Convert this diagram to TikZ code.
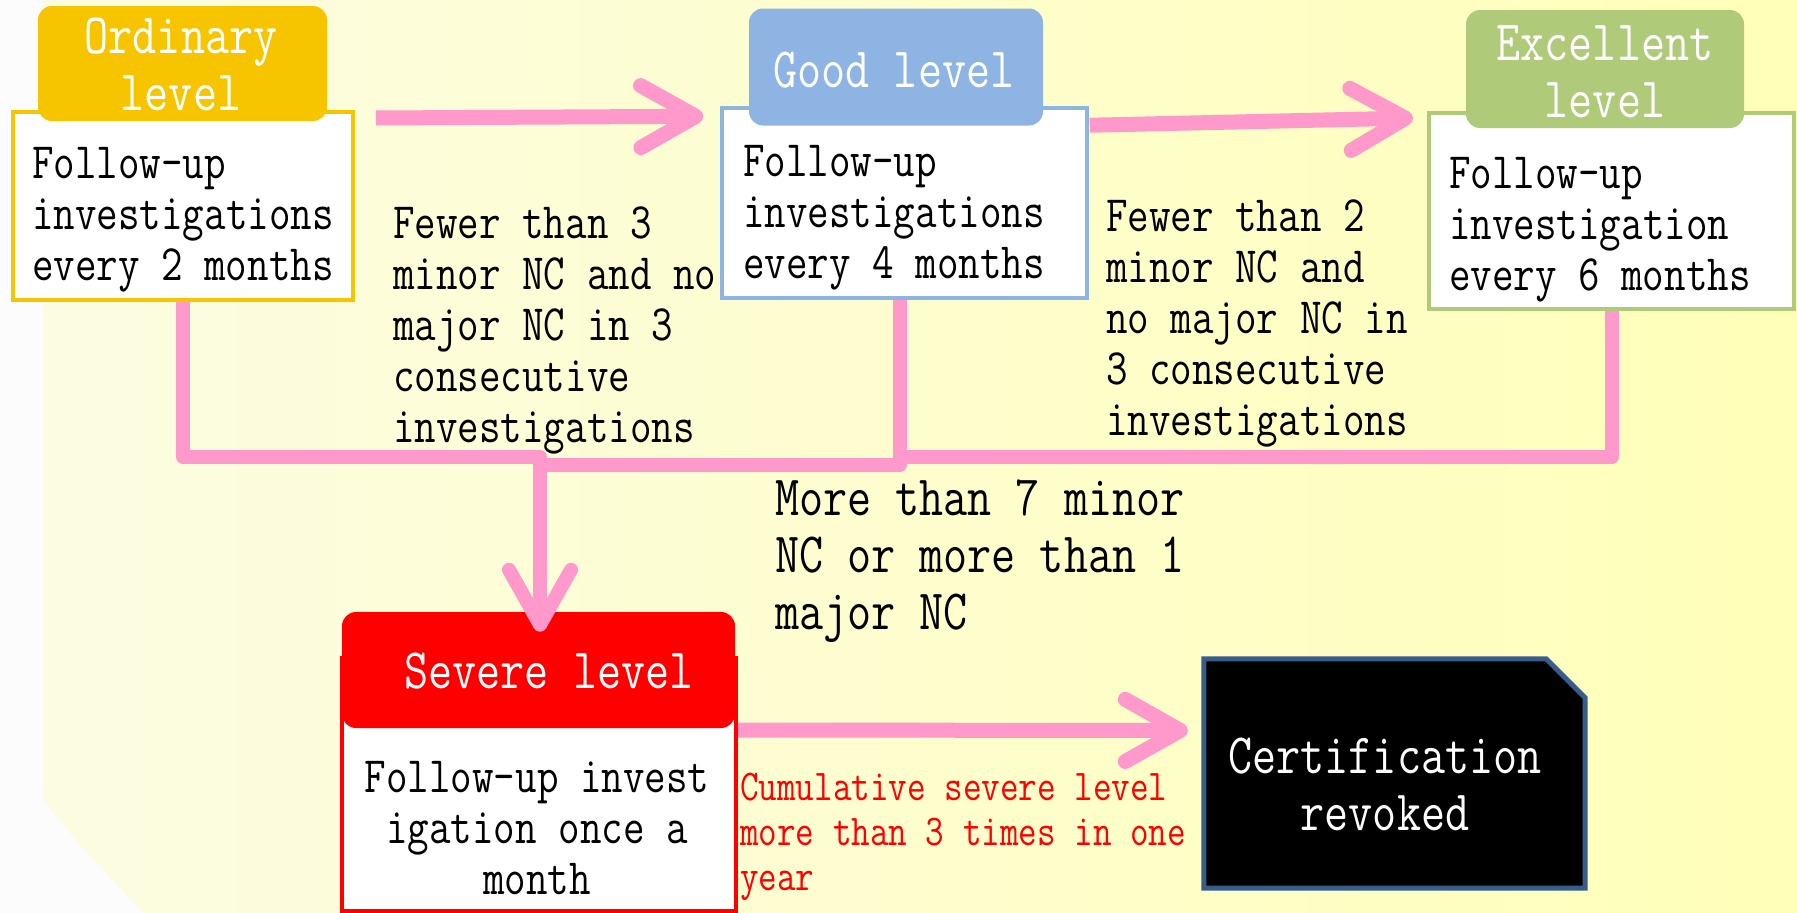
\documentclass[tikz,border=0pt]{standalone}
\usepackage{fontspec}
\usetikzlibrary{arrows.meta,calc}
\newfontfamily\mono[FakeStretch=0.82]{Latin Modern Mono}
\definecolor{bgL}{HTML}{FCFCE2}
\definecolor{bgR}{HTML}{FFFFB9}
\definecolor{strip}{HTML}{FCFCFC}
\definecolor{og}{HTML}{F6C500}
\definecolor{gb}{HTML}{8DB4E2}
\definecolor{eg}{HTML}{AFCB7A}
\definecolor{pk}{HTML}{FF99CC}
\definecolor{certb}{HTML}{385D8A}
\newcommand\txtL[1]{\begin{tabular}[t]{@{}l@{}}#1\end{tabular}}
\newcommand\txtC[1]{\begin{tabular}[t]{@{}c@{}}#1\end{tabular}}
\begin{document}
\begin{tikzpicture}[x=1pt,y=-1pt,
  box/.style={rectangle, draw, fill=white, inner sep=0pt, line width=4pt},
  head/.style={rectangle, rounded corners=14pt, inner sep=0pt},
  body/.style={font=\mono\fontsize{51}{51}\selectfont, inner sep=0pt, anchor=base west},
  bodyc/.style={font=\mono\fontsize{51}{51}\selectfont, inner sep=0pt, anchor=base},
  big/.style={font=\mono\fontsize{57}{57}\selectfont, inner sep=0pt, anchor=base},
  bigl/.style={font=\mono\fontsize{57}{57}\selectfont, inner sep=0pt, anchor=base west},
  redtxt/.style={font=\mono\fontsize{44}{45}\selectfont, text=red, inner sep=0pt, anchor=base west},
  pinkline/.style={draw=pk, line width=14pt, line join=round},
  barb/.style={-{Straight Barb[length=55pt,width=62pt,round]}}]
\useasboundingbox (0,0) rectangle (1797,913);
% background
\fill[strip] (0,0) rectangle (1797,913);
\shade[left color=bgL, right color=bgR] (43,0) -- (1797,0) -- (1797,913) -- (143,913)
  .. controls (100,867) and (55,820) .. (43,797) -- cycle;

% boxes
\node[box, draw=og, minimum width=340pt, minimum height=188pt] (obox) at (183,206) {};
\node[head, fill=og, minimum width=289pt, minimum height=115pt] (ohead) at (182.5,63.5) {};
\node[box, draw=gb, line width=3.5pt, minimum width=365pt, minimum height=190pt] (gbox) at (904.5,203) {};
\node[head, fill=gb, minimum width=294pt, minimum height=117pt] (ghead) at (896,67) {};
\node[box, draw=eg, minimum width=365pt, minimum height=196pt] (ebox) at (1611.5,211) {};
\node[head, fill=eg, minimum width=278pt, minimum height=118pt] (ehead) at (1605,69) {};
\node[box, draw=red, minimum width=394pt, minimum height=253pt] (sbox) at (539,784.5) {};
\node[head, fill=red, minimum width=393pt, minimum height=116pt] (shead) at (538.5,670) {};

% certification box
\node[minimum width=381pt, minimum height=229pt, inner sep=0pt] (cert) at (1394.5,773.5) {};
\filldraw[fill=black, draw=certb, line width=5pt, line join=miter]
  (cert.south west) -- (cert.north west) -- ([shift={(-39,0)}]cert.north east)
  -- ([shift={(0,39)}]cert.north east) -- (cert.south east) -- cycle;

% header texts
\node[big, text=white] (ohtxt) at (181,53) {\txtC{Ordinary\\level}};
\node[big, text=white] (ghtxt) at (894,87) {Good level};
\node[big, text=white] (ehtxt) at (1605,60) {\txtC{Excellent\\level}};
\node[big, text=white] (shtxt) at (549,688) {Severe level};
\node[big, text=white] (ctxt) at (1385,773) {\txtC{Certification\\revoked}};

% body texts
\node[body] (otxt) at (32,178) {\txtL{Follow-up\\investigations\\every 2 months}};
\node[body] (gtxt) at (743,176) {\txtL{Follow-up\\investigations\\every 4 months}};
\node[body] (etxt) at (1449,188) {\txtL{Follow-up\\investigation\\every 6 months}};
\node[bodyc] (stxt) at (537,792) {\txtC{Follow-up invest\\igation once a\\month}};

% condition labels
\node[body] (c1) at (393,238) {\txtL{Fewer than 3\\minor NC and no\\major NC in 3\\consecutive\\investigations}};
\node[body] (c2) at (1106,231) {\txtL{Fewer than 2\\minor NC and\\no major NC in\\3 consecutive\\investigations}};
\node[bigl] (c3) at (775,515) {\txtL{More than 7 minor\\NC or more than 1\\major NC}};
\node[redtxt] (c4) at (740,800) {\txtL{Cumulative severe level\\more than 3 times in one\\year}};

% connectors
\coordinate (j1) at (540,457);
\coordinate (j2) at (540,465);
\coordinate (j3) at (899,457);
\draw[pinkline] ([shift={(-5,0)}]gbox.south) |- (j2);
\draw[pinkline] (ebox.south) |- (j3);
\draw[pinkline, barb] (obox.south) |- (j1) -- ([shift={(1.5,20)}]shead.north);
\draw[pinkline, line width=15pt, barb] ([shift={(21,8)}]obox.north east) -- ([shift={(-17,10)}]gbox.north west);
\draw[pinkline, line width=15pt, barb] ([shift={(1,19)}]gbox.north east) -- ([shift={(-14,7)}]ebox.north west);
\draw[pinkline, line width=15pt, barb] ([shift={(0,74)}]sbox.north east) -- ([shift={(-16,-43)}]cert.west);
\end{tikzpicture}
\end{document}
